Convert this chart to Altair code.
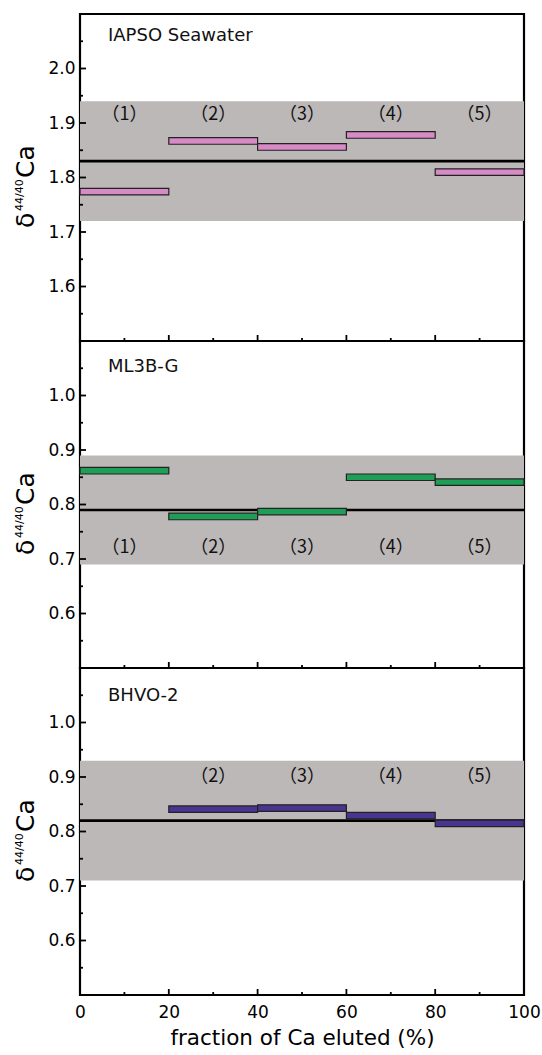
import altair as alt
import pandas as pd

# ---------------- data ----------------
frac_start = [0, 20, 40, 60, 80]
frac_end = [20, 40, 60, 80, 100]
frac_labels = ["（1）", "（2）", "（3）", "（4）", "（5）"]

samples = ["IAPSO Seawater", "ML3B-G", "BHVO-2"]
iapso_vals = [1.774, 1.867, 1.856, 1.878, 1.810]
ml3b_vals = [0.862, 0.778, 0.787, 0.850, 0.841]
bhvo_vals = [None, 0.841, 0.843, 0.829, 0.815]
sample_vals = [iapso_vals, ml3b_vals, bhvo_vals]

ref_mean = [1.83, 0.79, 0.82]
ref_2sd = [0.11, 0.10, 0.11]
label_level = [1.915, 0.72, 0.90]
label_shown = [[1, 1, 1, 1, 1], [1, 1, 1, 1, 1], [0, 1, 1, 1, 1]]

y_domains = [[1.5, 2.1], [0.5, 1.1], [0.5, 1.1]]
y_major = [[1.6, 1.7, 1.8, 1.9, 2.0], [0.6, 0.7, 0.8, 0.9, 1.0], [0.6, 0.7, 0.8, 0.9, 1.0]]
y_minor = [[1.55, 1.65, 1.75, 1.85, 1.95, 2.05],
           [0.55, 0.65, 0.75, 0.85, 0.95, 1.05],
           [0.55, 0.65, 0.75, 0.85, 0.95, 1.05]]
x_major = [0, 20, 40, 60, 80, 100]
x_minor = [10, 30, 50, 70, 90]

# ---------------- style ----------------
colors = ["#d68ac6", "#1e9e57", "#47358f"]
band_color = "#bcb8b7"
W, H = 444, 327
FONT = "DejaVu Sans"
name_y = [22, 26, 28]
half_h = 0.006


def panel(i, bottom):
    ysc = alt.Scale(domain=y_domains[i], nice=False, zero=False)
    xsc = alt.Scale(domain=[0, 100], nice=False, zero=False)
    yax = alt.Axis(values=y_major[i], format=".1f", ticks=False, tickSize=0, domain=False,
                   grid=False, labelFontSize=17, labelPadding=5, title=None)
    if bottom:
        xax = alt.Axis(values=x_major, format="d", ticks=False, tickSize=0, domain=False,
                       grid=False, labelFontSize=17, labelPadding=9, labelFlush=False,
                       title="fraction of Ca eluted (%)", titleFontSize=21.5, titlePadding=7)
    else:
        xax = None

    def X(f):
        return alt.X(f, type="quantitative", scale=xsc, axis=xax)

    def Y(f):
        return alt.Y(f, type="quantitative", scale=ysc, axis=yax)

    m, s = ref_mean[i], ref_2sd[i]
    band_df = pd.DataFrame({"x1": [0], "x2": [100], "lo": [m - s], "hi": [m + s], "m": [m]})
    bars_df = pd.DataFrame({"x1": frac_start, "x2": frac_end, "v": sample_vals[i]}).dropna()
    bars_df["lo"] = bars_df["v"] - half_h
    bars_df["hi"] = bars_df["v"] + half_h
    lab_df = pd.DataFrame({
        "xm": [(a + b) / 2 for a, b in zip(frac_start, frac_end)],
        "t": frac_labels, "show": label_shown[i]})
    lab_df = lab_df[lab_df["show"] == 1].copy()
    lab_df["y"] = label_level[i]

    band = alt.Chart(band_df).mark_rect(color=band_color).encode(
        x=X("x1"), x2="x2", y=Y("lo"), y2="hi")
    mean = alt.Chart(band_df).mark_rule(color="black", strokeWidth=2.6).encode(
        x=X("x1"), x2="x2", y=Y("m"))
    bars = alt.Chart(bars_df).mark_rect(color=colors[i], stroke="#222222", strokeWidth=1.2).encode(
        x=X("x1"), x2="x2", y=Y("lo"), y2="hi")
    labels = alt.Chart(lab_df).mark_text(font="Noto Sans CJK SC", fontSize=18, color="#111111",
                                         baseline="middle", align="center").encode(
        x=X("xm"), y=Y("y"), text="t:N")

    ymaj = alt.Chart(pd.DataFrame({"t": y_major[i]})).mark_rule(color="black", strokeWidth=1.8).encode(
        y=Y("t"), x=alt.value(0), x2=alt.value(6))
    ymin = alt.Chart(pd.DataFrame({"t": y_minor[i]})).mark_rule(color="black", strokeWidth=1.8).encode(
        y=Y("t"), x=alt.value(0), x2=alt.value(3))
    xmaj = alt.Chart(pd.DataFrame({"t": x_major})).mark_rule(color="black", strokeWidth=1.8).encode(
        x=X("t"), y=alt.value(H), y2=alt.value(H - 6))
    xmin = alt.Chart(pd.DataFrame({"t": x_minor})).mark_rule(color="black", strokeWidth=1.8).encode(
        x=X("t"), y=alt.value(H), y2=alt.value(H - 3))

    name = alt.Chart(pd.DataFrame({"n": [samples[i]]})).mark_text(
        font=FONT, fontSize=18, align="left", baseline="middle", color="#111111").encode(
        text="n:N", x=alt.value(28), y=alt.value(name_y[i]))

    t1 = alt.Chart(pd.DataFrame({"n": ["δ"]})).mark_text(
        font=FONT, fontSize=25, angle=270, align="left", baseline="alphabetic", color="black").encode(
        text="n:N", x=alt.value(-46), y=alt.value(214))
    t2 = alt.Chart(pd.DataFrame({"n": ["44/40"]})).mark_text(
        font=FONT, fontSize=11, angle=270, align="left", baseline="alphabetic", color="black").encode(
        text="n:N", x=alt.value(-57), y=alt.value(197))
    t3 = alt.Chart(pd.DataFrame({"n": ["Ca"]})).mark_text(
        font=FONT, fontSize=25, angle=270, align="left", baseline="alphabetic", color="black").encode(
        text="n:N", x=alt.value(-46), y=alt.value(164))

    layers = [band, mean, bars, labels, ymaj, ymin, xmaj, xmin, name, t1, t2, t3]
    if i == 0:
        anchor = alt.Chart(pd.DataFrame({"n": [0]})).mark_rule(opacity=0, strokeWidth=1).encode(
            x=alt.value(-78.5), x2=alt.value(-78.5), y=alt.value(-12.5), y2=alt.value(0))
        layers.append(anchor)
    return alt.layer(*layers).properties(width=W, height=H)


chart = alt.vconcat(panel(0, False), panel(1, False), panel(2, True),
                    spacing=0, bounds="flush").properties(
    padding=0, background="white"
).configure_view(stroke="black", strokeWidth=2.2).configure_axis(
    labelFont=FONT, titleFont=FONT, labelColor="black", titleColor="black", titleFontWeight="normal"
)

chart.save("out.html", embed_options={"renderer": "svg", "actions": False})
